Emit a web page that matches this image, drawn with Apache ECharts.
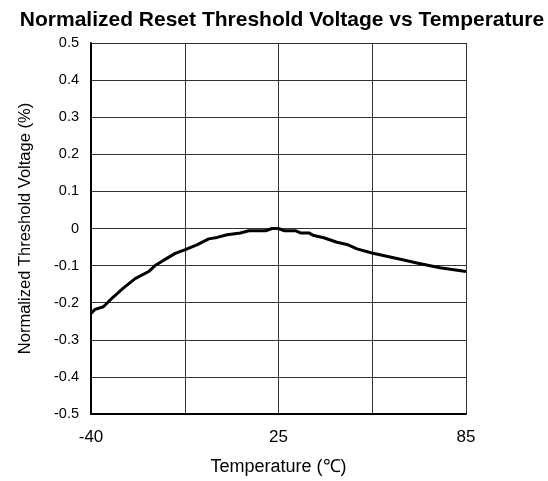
<!DOCTYPE html>
<html>
<head>
<meta charset="utf-8">
<script src="https://cdn.jsdelivr.net/npm/echarts@6/dist/echarts.min.js"></script>
<style>html,body{margin:0;padding:0;background:#fff}#c{width:548px;height:481px}</style>
</head>
<body>
<div id="c"></div>
<script>
const xTickLabels = ['-40', '', '25', '', '85'];
const temperatures = [-40, -38.6, -35.7, -32.2, -28.7, -24.7, -20.0, -17.8, -14.9, -10.8, -7.3, -3.3, 0.8, 3.7, 7.2, 11.8, 14.7, 18.0, 20.5, 22.8, 25, 26.7, 30.4, 32.0, 34.7, 36.3, 39.5, 43.7, 46.9, 50.1, 54.9, 61.8, 69.3, 76.7, 85];
const values = [-0.229, -0.218, -0.211, -0.184, -0.160, -0.135, -0.116, -0.100, -0.086, -0.067, -0.057, -0.044, -0.028, -0.024, -0.017, -0.012, -0.006, -0.006, -0.006, 0.0, 0.0, -0.006, -0.006, -0.012, -0.012, -0.019, -0.025, -0.037, -0.043, -0.055, -0.066, -0.079, -0.093, -0.106, -0.116];

// Axis is drawn with -40 / 25 / 85 equally spaced (two segments).
function pos(t) { return t <= 25 ? (t + 40) / 65 * 2 : 2 + (t - 25) / 60 * 2; }
const points = temperatures.map((t, i) => [pos(t), values[i]]);

const FONT = 'Liberation Sans, Arial';
const chart = echarts.init(document.getElementById('c'));
chart.setOption({
  animation: false,
  title: {
    text: 'Normalized Reset Threshold Voltage vs Temperature',
    left: 277, textAlign: 'center', top: 5,
    textStyle: { fontFamily: FONT, fontWeight: 'bold', fontSize: 21, color: '#000' }
  },
  grid: { left: 91, right: 82, top: 43, bottom: 65 },
  xAxis: {
    type: 'value', min: 0, max: 4, interval: 1,
    name: 'Temperature (℃)', nameLocation: 'middle', nameGap: 44,
    nameTextStyle: { fontFamily: FONT, fontSize: 18, color: '#000' },
    axisLine: { onZero: false, lineStyle: { color: '#000', width: 2 } },
    axisTick: { show: false },
    axisLabel: { formatter: v => xTickLabels[Math.round(v)], fontFamily: FONT, fontSize: 17, color: '#000', margin: 15 },
    splitLine: { lineStyle: { color: '#333', width: 1 } }
  },
  yAxis: {
    type: 'value', min: -0.5, max: 0.5, interval: 0.1,
    name: 'Normalized Threshold Voltage (%)', nameLocation: 'middle', nameGap: 57,
    nameTextStyle: { fontFamily: FONT, fontSize: 16.5, color: '#000' },
    axisLine: { show: true, onZero: false, lineStyle: { color: '#000', width: 2 } },
    axisTick: { show: false },
    axisLabel: { formatter: v => { const r = Math.round(v * 10) / 10; return r === 0 ? '0' : r.toFixed(1); }, fontFamily: FONT, fontSize: 14.5, color: '#000', margin: 12 },
    splitLine: { lineStyle: { color: '#333', width: 1 } }
  },
  series: [{
    type: 'line', data: points, showSymbol: false,
    lineStyle: { color: '#000', width: 3 }
  }]
});
</script>
</body>
</html>
